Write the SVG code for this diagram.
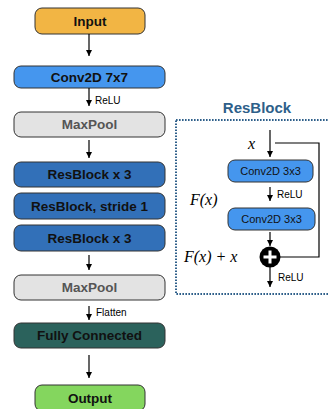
<svg xmlns="http://www.w3.org/2000/svg" width="329" height="409" viewBox="0 0 329 409">
<defs>
<marker id="ah" viewBox="0 0 10 10" refX="10" refY="5" markerWidth="6" markerHeight="6" markerUnits="userSpaceOnUse" orient="auto"><path d="M0,0 L10,5 L0,10 z" fill="#000"/></marker>
<style>
.box{stroke:#333;stroke-width:1}
.t{font-family:"Liberation Sans",Arial,sans-serif;font-weight:bold;font-size:13.5px;text-anchor:middle}
.s{font-family:"Liberation Sans",Arial,sans-serif;font-size:10px}
.m{font-family:"Liberation Serif","Times New Roman",serif;font-style:italic;font-size:16px}
.c{stroke:#000;stroke-width:1.2;fill:none}
</style>
</defs>
<rect width="329" height="409" fill="#fff"/>
<g id="input"><rect class="box" x="35" y="8" width="110" height="26" rx="7" fill="#F2B544"/><text class="t" x="90" y="26" fill="#111">Input</text></g>
<g id="conv7"><rect class="box" x="14" y="66" width="151" height="22" rx="7" fill="#4596EE"/><text class="t" x="89.5" y="82" fill="#111">Conv2D 7x7</text></g>
<g id="maxpool1"><rect class="box" x="14" y="112" width="151" height="25" rx="7" fill="#E3E3E3" stroke="#999"/><text class="t" x="89.5" y="129" fill="#555">MaxPool</text></g>
<g id="res1"><rect class="box" x="14" y="162" width="151" height="25" rx="7" fill="#3270B8"/><text class="t" x="89.5" y="179" fill="#111">ResBlock x 3</text></g>
<g id="res2"><rect class="box" x="14" y="193" width="151" height="26" rx="7" fill="#3270B8"/><text class="t" x="89.5" y="211" fill="#111">ResBlock, stride 1</text></g>
<g id="res3"><rect class="box" x="14" y="225" width="151" height="26" rx="7" fill="#3270B8"/><text class="t" x="89.5" y="243" fill="#111">ResBlock x 3</text></g>
<g id="maxpool2"><rect class="box" x="14" y="275" width="151" height="25" rx="7" fill="#E3E3E3" stroke="#999"/><text class="t" x="89.5" y="292" fill="#555">MaxPool</text></g>
<g id="fc"><rect class="box" x="14" y="323" width="151" height="25" rx="7" fill="#2B625C"/><text class="t" x="89.5" y="340" fill="#111">Fully Connected</text></g>
<g id="output"><rect class="box" x="35" y="385" width="110" height="26" rx="7" fill="#84D65E"/><text class="t" x="90" y="403" fill="#111">Output</text></g>

<g id="resblock">
<rect x="176" y="120" width="160" height="174" fill="none" stroke="#2E5F8A" stroke-width="2" stroke-dasharray="1.6,1.4"/>
<text x="257" y="113" font-family="Liberation Sans,Arial,sans-serif" font-weight="bold" font-size="15" fill="#2E5F8A" text-anchor="middle">ResBlock</text>
<g id="rconv1"><rect class="box" x="228" y="160" width="85" height="22" rx="7" fill="#4596EE"/><text x="270.5" y="175" font-family="Liberation Sans,Arial,sans-serif" font-size="11" text-anchor="middle" fill="#111">Conv2D 3x3</text></g>
<g id="rconv2"><rect class="box" x="228" y="208" width="87" height="22" rx="7" fill="#4596EE"/><text x="271.5" y="223" font-family="Liberation Sans,Arial,sans-serif" font-size="11" text-anchor="middle" fill="#111">Conv2D 3x3</text></g>
<g id="add"><circle cx="270" cy="257" r="10.5" fill="#000"/><path d="M263.5,257 H276.5 M270,250.5 V263.5" stroke="#fff" stroke-width="3"/></g>
<text class="m" x="248" y="149">x</text>
<text class="m" x="190" y="205">F(x)</text>
<text class="m" x="184" y="262" font-size="16.5">F(x) + x</text>
</g>

<g id="connectors">
<line class="c" x1="89" y1="34" x2="89" y2="56" marker-end="url(#ah)"/>
<line class="c" x1="89" y1="88" x2="89" y2="106" marker-end="url(#ah)"/>
<text class="s" x="95" y="104">ReLU</text>
<line class="c" x1="89" y1="140" x2="89" y2="158" marker-end="url(#ah)"/>
<line class="c" x1="89" y1="255" x2="89" y2="270" marker-end="url(#ah)"/>
<line class="c" x1="89" y1="306" x2="89" y2="320" marker-end="url(#ah)"/>
<text class="s" x="96" y="316">Flatten</text>
<line class="c" x1="89" y1="355" x2="89" y2="378" marker-end="url(#ah)"/>
<line class="c" x1="270" y1="130" x2="270" y2="157" marker-end="url(#ah)"/>
<polyline class="c" points="275,143 319,143 319,257 280,257"/>
<line class="c" x1="270" y1="187" x2="270" y2="201" marker-end="url(#ah)"/>
<text class="s" x="277" y="198">ReLU</text>
<line class="c" x1="270" y1="232" x2="270" y2="246" marker-end="url(#ah)"/>
<line class="c" x1="270" y1="267" x2="270" y2="287" marker-end="url(#ah)"/>
<text class="s" x="278" y="281">ReLU</text>
</g>
</svg>
